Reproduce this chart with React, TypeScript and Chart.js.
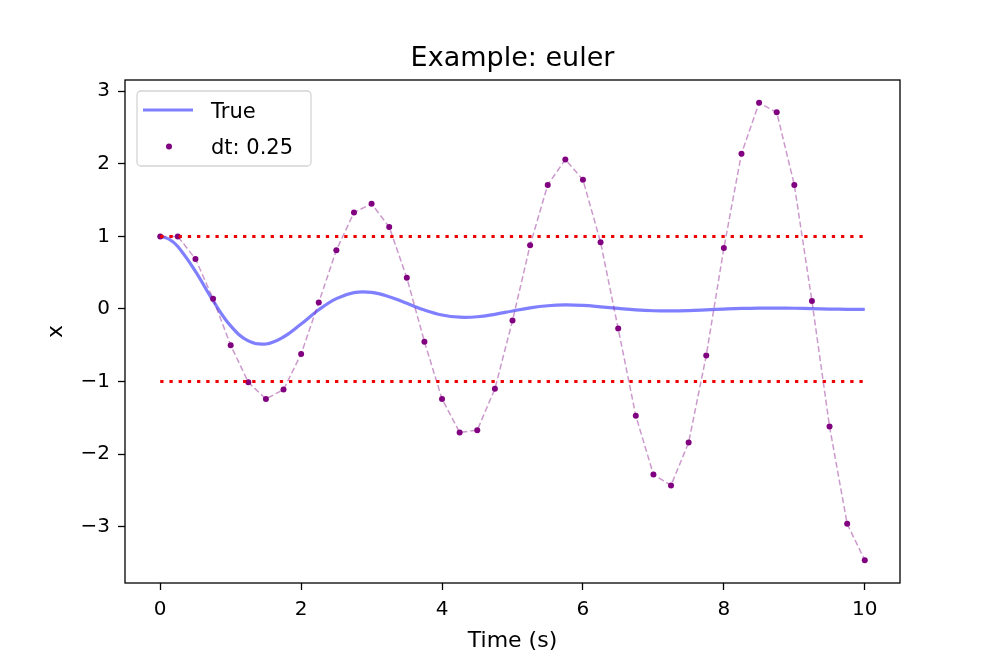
import React, { useEffect, useRef } from "react";
import { Chart, registerables } from "chart.js";

Chart.register(...registerables);

const FONT = "'DejaVu Sans', 'Liberation Sans', sans-serif";

// Time samples (s), dt = 0.25
const time = [
  0, 0.25, 0.5, 0.75, 1, 1.25, 1.5, 1.75, 2, 2.25, 2.5, 2.75, 3, 3.25, 3.5, 3.75,
  4, 4.25, 4.5, 4.75, 5, 5.25, 5.5, 5.75, 6, 6.25, 6.5, 6.75, 7, 7.25, 7.5, 7.75,
  8, 8.25, 8.5, 8.75, 9, 9.25, 9.5, 9.75, 10,
];

// Time samples for the "True" curve
const trueTime = [
  0, 0.125, 0.25, 0.5, 0.75, 1, 1.25, 1.5, 1.75, 2, 2.25, 2.5, 2.75, 3, 3.25, 3.5, 3.75,
  4, 4.25, 4.5, 4.75, 5, 5.25, 5.5, 5.75, 6, 6.25, 6.5, 6.75, 7, 7.25, 7.5, 7.75,
  8, 8.25, 8.5, 8.75, 9, 9.25, 9.5, 9.75, 10,
];

// "True" solution
const trueX = [
  1.0, 0.963, 0.86, 0.519, 0.114, -0.233, -0.439, -0.482, -0.386, -0.207, -0.011, 0.143,
  0.226, 0.229, 0.17, 0.078, -0.015, -0.083, -0.113, -0.107, -0.073, -0.027, 0.016,
  0.045, 0.056, 0.049, 0.03, 0.008, -0.012, -0.024, -0.027, -0.022, -0.012, -0.001,
  0.008, 0.0125, 0.013, 0.01, 0.005, -0.0005, -0.0044, -0.0063,
];

// Euler dt = 0.25 points
const eulerX = [
  1.0, 1.0, 0.69, 0.14, -0.5, -1.01, -1.24, -1.11, -0.62, 0.09, 0.81, 1.33, 1.45,
  1.13, 0.43, -0.45, -1.24, -1.7, -1.67, -1.1, -0.16, 0.88, 1.71, 2.06, 1.78, 0.92,
  -0.27, -1.47, -2.28, -2.43, -1.84, -0.64, 0.84, 2.14, 2.84, 2.71, 1.71, 0.11,
  -1.62, -2.96, -3.46,
];

const thresholds = [1, -1];
const hlineSpan = [0, 10];
const xTicks = [0, 2, 4, 6, 8, 10];
const yTicks = [-3, -2, -1, 0, 1, 2, 3];

const titleText = "Example: euler";
const xLabel = "Time (s)";
const yLabel = "x";
const legendLabels = ["True", "dt: 0.25"];

const fmt = (v: number) => (v < 0 ? "\u2212" + Math.abs(v) : String(v));

export default function App() {
  const ref = useRef<HTMLCanvasElement>(null);

  useEffect(() => {
    const canvas = ref.current!;
    const pts = (xs: number[], ys: number[]) => xs.map((x, i) => ({ x, y: ys[i] }));

    const overlay = {
      id: "overlay",
      afterDatasetsDraw(chart: any) {
        const ctx = chart.ctx;
        const a = chart.chartArea;
        ctx.save();
        ctx.strokeStyle = "#000";
        ctx.lineWidth = 1.3;
        ctx.strokeRect(a.left, a.top, a.right - a.left, a.bottom - a.top);
        ctx.restore();
      },
      afterDraw(chart: any) {
        const ctx = chart.ctx;
        const a = chart.chartArea;
        ctx.save();
        ctx.fillStyle = "#000";
        // title
        ctx.font = `27px ${FONT}`;
        ctx.textAlign = "center";
        ctx.textBaseline = "alphabetic";
        ctx.fillText(titleText, (a.left + a.right) / 2, 66);
        // x label
        ctx.font = `22px ${FONT}`;
        ctx.fillText(xLabel, (a.left + a.right) / 2, 647);
        // y label
        ctx.save();
        ctx.translate(62, (a.top + a.bottom) / 2);
        ctx.rotate(-Math.PI / 2);
        ctx.fillText(yLabel, 0, 0);
        ctx.restore();

        // legend
        const lx = 137, ly = 91, lw = 174, lh = 75, r = 4;
        ctx.beginPath();
        ctx.moveTo(lx + r, ly);
        ctx.lineTo(lx + lw - r, ly);
        ctx.arcTo(lx + lw, ly, lx + lw, ly + r, r);
        ctx.lineTo(lx + lw, ly + lh - r);
        ctx.arcTo(lx + lw, ly + lh, lx + lw - r, ly + lh, r);
        ctx.lineTo(lx + r, ly + lh);
        ctx.arcTo(lx, ly + lh, lx, ly + lh - r, r);
        ctx.lineTo(lx, ly + r);
        ctx.arcTo(lx, ly, lx + r, ly, r);
        ctx.closePath();
        ctx.fillStyle = "rgba(255,255,255,0.8)";
        ctx.fill();
        ctx.strokeStyle = "#d4d4d4";
        ctx.lineWidth = 1.3;
        ctx.stroke();

        ctx.beginPath();
        ctx.moveTo(143, 110);
        ctx.lineTo(193, 110);
        ctx.strokeStyle = "rgba(0,0,255,0.5)";
        ctx.lineWidth = 3;
        ctx.stroke();

        ctx.beginPath();
        ctx.arc(169, 146.5, 3, 0, Math.PI * 2);
        ctx.fillStyle = "#800080";
        ctx.fill();

        ctx.fillStyle = "#000";
        ctx.font = `21px ${FONT}`;
        ctx.textAlign = "left";
        ctx.fillText(legendLabels[0], 211, 118);
        ctx.fillText(legendLabels[1], 211, 154);
        ctx.restore();
      },
    };

    const tickFont = { family: FONT, size: 20 };

    const chart = new Chart(canvas, {
      type: "line",
      data: {
        datasets: [
          {
            label: legendLabels[0],
            data: pts(trueTime, trueX),
            borderColor: "rgba(0,0,255,0.5)",
            borderWidth: 3.2,
            pointRadius: 0,
            tension: 0.4,
            fill: false,
            order: 4,
          },
          {
            label: "dt line",
            data: pts(time, eulerX),
            borderColor: "rgba(128,0,128,0.4)",
            borderWidth: 1.5,
            borderDash: [6, 3],
            pointRadius: 0,
            tension: 0,
            fill: false,
            order: 3,
          },
          {
            label: legendLabels[1],
            data: pts(time, eulerX),
            showLine: false,
            pointRadius: 3,
            pointBackgroundColor: "#800080",
            pointBorderWidth: 0,
            borderColor: "#800080",
            order: 2,
          },
          ...thresholds.map((th) => ({
            label: "threshold " + th,
            data: pts(hlineSpan, [th, th]),
            borderColor: "#ee0000",
            borderWidth: 3,
            borderDash: [3.3, 5.9],
            borderCapStyle: "butt" as const,
            pointRadius: 0,
            fill: false,
            order: 1,
          })),
        ],
      },
      options: {
        animation: false,
        responsive: false,
        devicePixelRatio: 1,
        layout: { padding: { top: 80, right: 100, left: 0, bottom: 0 } },
        plugins: {
          legend: { display: false },
          title: { display: false },
          tooltip: { enabled: false },
        },
        events: [],
        scales: {
          x: {
            type: "linear",
            min: -0.5,
            max: 10.5,
            afterBuildTicks: (scale: any) => {
              scale.ticks = xTicks.map((v) => ({ value: v }));
            },
            afterFit: (scale: any) => {
              scale.height = 84;
            },
            grid: {
              display: true,
              drawOnChartArea: false,
              drawTicks: true,
              tickLength: 7,
              tickColor: "#000",
              tickWidth: 1.3,
            },
            border: { display: false },
            ticks: {
              font: tickFont,
              color: "#000",
              padding: 8,
              maxRotation: 0,
              autoSkip: false,
              callback: (v: any) => fmt(Number(v)),
            },
          },
          y: {
            type: "linear",
            min: -3.775,
            max: 3.155,
            afterBuildTicks: (scale: any) => {
              scale.ticks = yTicks.map((v) => ({ value: v }));
            },
            afterFit: (scale: any) => {
              scale.width = 125;
            },
            grid: {
              display: true,
              drawOnChartArea: false,
              drawTicks: true,
              tickLength: 7,
              tickColor: "#000",
              tickWidth: 1.3,
            },
            border: { display: false },
            ticks: {
              font: tickFont,
              color: "#000",
              padding: 8,
              autoSkip: false,
              callback: (v: any) => fmt(Number(v)),
            },
          },
        },
      },
      plugins: [overlay],
    } as any);

    return () => chart.destroy();
  }, []);

  return (
    <div style={{ position: "absolute", left: 0, top: 0, width: 1000, height: 667, background: "#fff" }}>
      <canvas ref={ref} width={1000} height={667} style={{ display: "block" }} />
    </div>
  );
}
